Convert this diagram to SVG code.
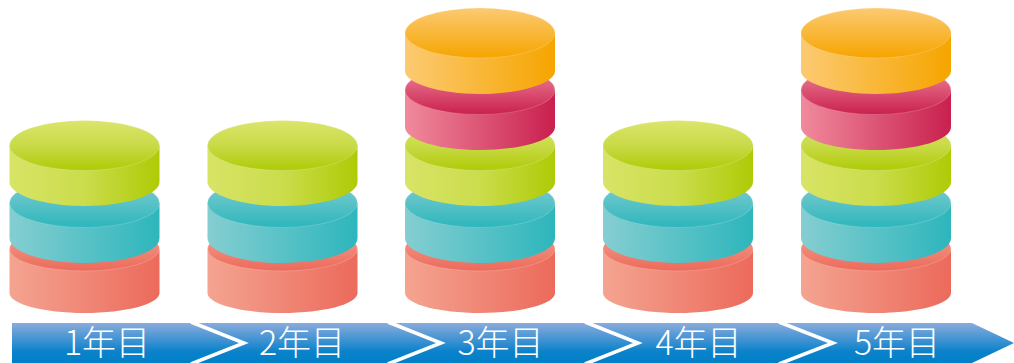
<svg xmlns="http://www.w3.org/2000/svg" width="1014" height="363" viewBox="0 0 1014 363">
<style>
text{font-family:"Noto Sans CJK JP","Noto Sans",sans-serif;font-weight:300;font-size:34px;fill:#fff;text-anchor:middle}
.chev{fill:none;stroke:#fff;stroke-width:3.500}
.top{stroke:#fff;stroke-opacity:.3;stroke-width:.6}
</style>
<defs>
<linearGradient id="band" x1="0" y1="0" x2="0" y2="1"><stop offset="0" stop-color="#8aabdd"/><stop offset=".72" stop-color="#0a82ca"/><stop offset="1" stop-color="#0080c8"/></linearGradient>
<linearGradient id="gs"><stop offset="0" stop-color="#d8e466"/><stop offset=".5" stop-color="#cbdc4c"/><stop offset="1" stop-color="#aecb06"/></linearGradient>
<linearGradient id="gt" x1="0" y1="0" x2="0" y2="1"><stop offset="0" stop-color="#dbe56c"/><stop offset=".5" stop-color="#c9da48"/><stop offset="1" stop-color="#aecb06"/></linearGradient>
<linearGradient id="ts"><stop offset="0" stop-color="#85ced1"/><stop offset="1" stop-color="#2db6bc"/></linearGradient>
<linearGradient id="tt" x1="0" y1="0" x2="0" y2="1"><stop offset="0" stop-color="#85ced1"/><stop offset="1" stop-color="#2db6bc"/></linearGradient>
<linearGradient id="cs"><stop offset="0" stop-color="#f4a491"/><stop offset="1" stop-color="#ec6a5b"/></linearGradient>
<linearGradient id="ct" x1="0" y1="0" x2="0" y2="1"><stop offset="0" stop-color="#f4a491"/><stop offset="1" stop-color="#ec6a5b"/></linearGradient>
<linearGradient id="rs"><stop offset="0" stop-color="#f08a9c"/><stop offset="1" stop-color="#c9204f"/></linearGradient>
<linearGradient id="rt" x1="0" y1="0" x2="0" y2="1"><stop offset="0" stop-color="#f08a9c"/><stop offset="1" stop-color="#c9204f"/></linearGradient>
<linearGradient id="os"><stop offset="0" stop-color="#fcca72"/><stop offset="1" stop-color="#f6a500"/></linearGradient>
<linearGradient id="ot" x1="0" y1="0" x2="0" y2="1"><stop offset="0" stop-color="#fcca72"/><stop offset="1" stop-color="#f6a500"/></linearGradient>
<g id="coral"><path d="M-75 250V293C-75 304-41 313 0 313S75 304 75 293V250Z" fill="url(#cs)"/><ellipse cx="0" cy="249" rx="75" ry="22" fill="url(#ct)" class="top"/></g>
<g id="teal"><path d="M-75 203V238C-75 252-41 263 0 263S75 252 75 238V203Z" fill="url(#ts)"/><ellipse cx="0" cy="203" rx="75" ry="24.500" fill="url(#tt)" class="top"/></g>
<g id="green"><path d="M-75 145V182C-75 195-41 206 0 206S75 195 75 182V145Z" fill="url(#gs)"/><ellipse cx="0" cy="145.500" rx="75" ry="25" fill="url(#gt)" class="top"/></g>
<g id="red"><path d="M-75 90V127C-75 140-41 150 0 150S75 140 75 127V90Z" fill="url(#rs)"/><ellipse cx="0" cy="90" rx="75" ry="24.500" fill="url(#rt)" class="top"/></g>
<g id="orange"><path d="M-75 33V71C-75 83-41 94 0 94S75 83 75 71V33Z" fill="url(#os)"/><ellipse cx="0" cy="33" rx="75" ry="25" fill="url(#ot)" class="top"/></g>
</defs>
<g id="timeline">
<path d="M12 323H972L1014 343L972 363H12Z" fill="url(#band)"/>
<g id="connectors">
<path class="chev" d="M191 322L244 343L191 364"/>
<path class="chev" d="M388 322L441 343L388 364"/>
<path class="chev" d="M585 322L638 343L585 364"/>
<path class="chev" d="M779 322L833 343L779 364"/>
</g>
</g>
<g id="year1"><use href="#coral" x="84.500"/><use href="#teal" x="84.500"/><use href="#green" x="84.500"/><text x="107" y="355">1年目</text></g>
<g id="year2"><use href="#coral" x="282.500"/><use href="#teal" x="282.500"/><use href="#green" x="282.500"/><text x="302" y="355">2年目</text></g>
<g id="year3"><use href="#coral" x="480"/><use href="#teal" x="480"/><use href="#green" x="480"/><use href="#red" x="480"/><use href="#orange" x="480"/><text x="500.500" y="355">3年目</text></g>
<g id="year4"><use href="#coral" x="678"/><use href="#teal" x="678"/><use href="#green" x="678"/><text x="698.500" y="355">4年目</text></g>
<g id="year5"><use href="#coral" x="876"/><use href="#teal" x="876"/><use href="#green" x="876"/><use href="#red" x="876"/><use href="#orange" x="876"/><text x="897" y="355">5年目</text></g>
</svg>
